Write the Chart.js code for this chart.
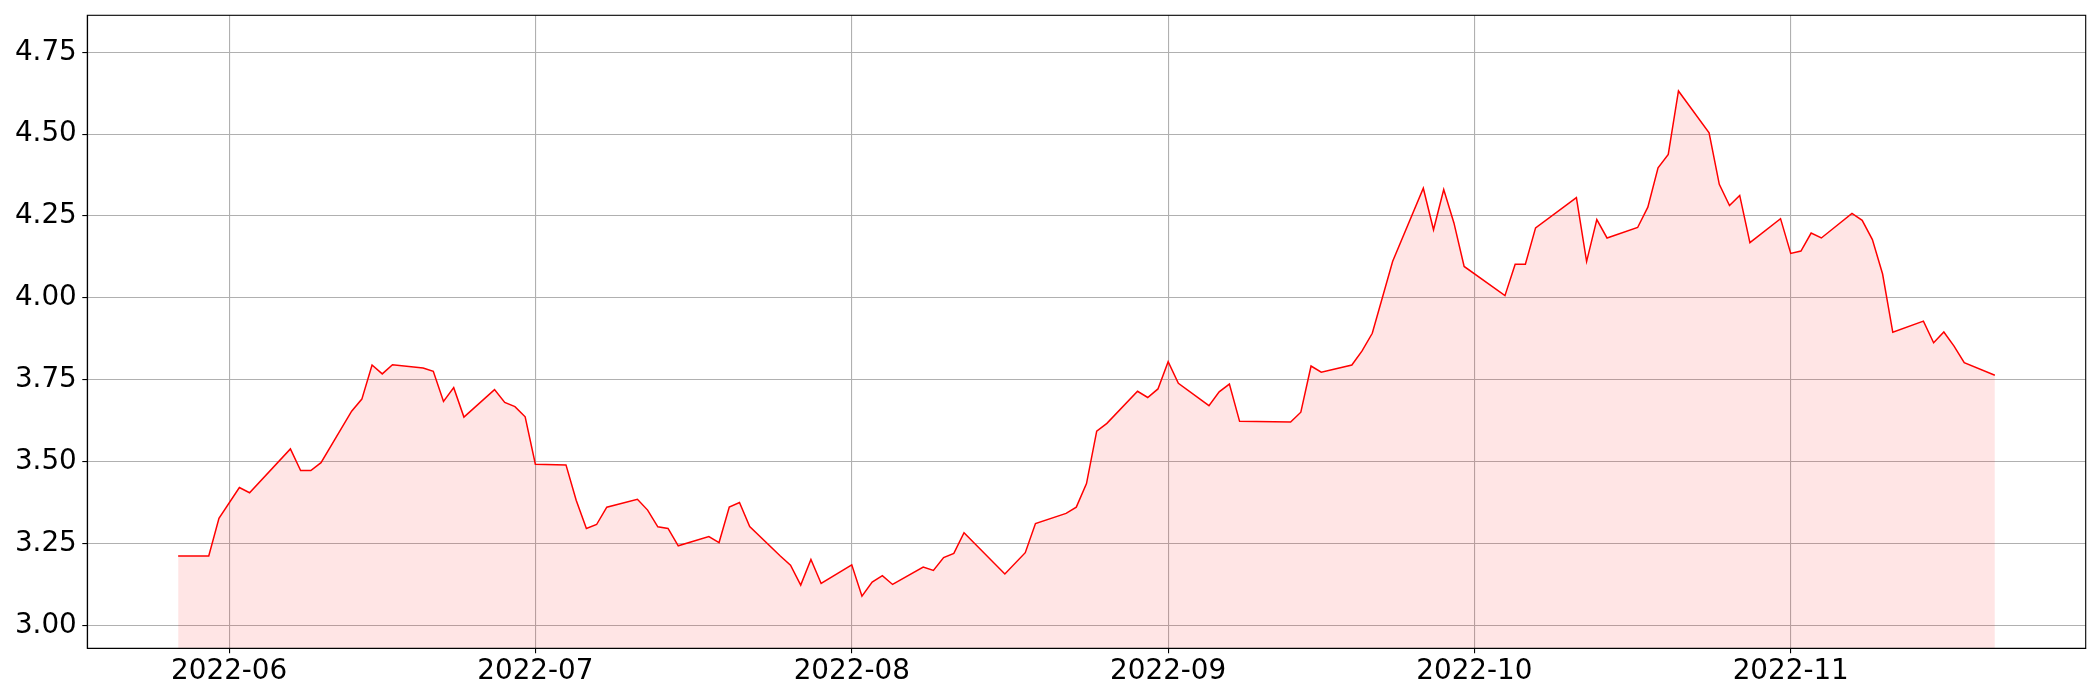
<!DOCTYPE html>
<html>
<head>
<meta charset="utf-8">
<script src="https://cdn.jsdelivr.net/npm/chart.js@4/dist/chart.umd.min.js"></script>
<style>
  html, body { margin: 0; padding: 0; background: #fff; }
  #chart { display: block; }
</style>
</head>
<body>
<canvas id="chart" width="2100" height="700"></canvas>
<script>
// dates of each observation
const dates = [
    '2022-05-27', '2022-05-30', '2022-05-31', '2022-06-02', '2022-06-03', '2022-06-07', '2022-06-08', '2022-06-09', '2022-06-10',
    '2022-06-13', '2022-06-14', '2022-06-15', '2022-06-16', '2022-06-17', '2022-06-20', '2022-06-21', '2022-06-22', '2022-06-23',
    '2022-06-24', '2022-06-27', '2022-06-28', '2022-06-29', '2022-06-30', '2022-07-01', '2022-07-04', '2022-07-05', '2022-07-06',
    '2022-07-07', '2022-07-08', '2022-07-11', '2022-07-12', '2022-07-13', '2022-07-14', '2022-07-15', '2022-07-18', '2022-07-19',
    '2022-07-20', '2022-07-21', '2022-07-22', '2022-07-25', '2022-07-26', '2022-07-27', '2022-07-28', '2022-07-29', '2022-08-01',
    '2022-08-02', '2022-08-03', '2022-08-04', '2022-08-05', '2022-08-08', '2022-08-09', '2022-08-10', '2022-08-11', '2022-08-12',
    '2022-08-16', '2022-08-18', '2022-08-19', '2022-08-22', '2022-08-23', '2022-08-24', '2022-08-25', '2022-08-26', '2022-08-29',
    '2022-08-30', '2022-08-31', '2022-09-01', '2022-09-02', '2022-09-05', '2022-09-06', '2022-09-07', '2022-09-08', '2022-09-13',
    '2022-09-14', '2022-09-15', '2022-09-16', '2022-09-19', '2022-09-20', '2022-09-21', '2022-09-23', '2022-09-26', '2022-09-27',
    '2022-09-28', '2022-09-29', '2022-09-30', '2022-10-04', '2022-10-05', '2022-10-06', '2022-10-07', '2022-10-11', '2022-10-12',
    '2022-10-13', '2022-10-14', '2022-10-17', '2022-10-18', '2022-10-19', '2022-10-20', '2022-10-21', '2022-10-24', '2022-10-25',
    '2022-10-26', '2022-10-27', '2022-10-28', '2022-10-31', '2022-11-01', '2022-11-02', '2022-11-03', '2022-11-04', '2022-11-07',
    '2022-11-08', '2022-11-09', '2022-11-10', '2022-11-11', '2022-11-14', '2022-11-15', '2022-11-16', '2022-11-17', '2022-11-18',
    '2022-11-21'
];

// value on each date
const values = [
    3.212, 3.212, 3.327, 3.421, 3.405, 3.539, 3.473, 3.473, 3.497,
    3.654, 3.691, 3.795, 3.768, 3.796, 3.786, 3.776, 3.684, 3.726,
    3.636, 3.720, 3.681, 3.668, 3.637, 3.492, 3.490, 3.382, 3.296,
    3.308, 3.361, 3.385, 3.352, 3.301, 3.296, 3.243, 3.271, 3.253,
    3.361, 3.375, 3.302, 3.212, 3.184, 3.123, 3.201, 3.128, 3.185,
    3.089, 3.132, 3.152, 3.125, 3.178, 3.168, 3.207, 3.220, 3.283,
    3.157, 3.222, 3.311, 3.342, 3.361, 3.433, 3.593, 3.617, 3.715,
    3.696, 3.722, 3.805, 3.739, 3.671, 3.713, 3.737, 3.623, 3.621,
    3.651, 3.792, 3.773, 3.795, 3.838, 3.892, 4.112, 4.335, 4.208,
    4.331, 4.229, 4.096, 4.007, 4.103, 4.103, 4.214, 4.306, 4.111,
    4.239, 4.183, 4.215, 4.277, 4.397, 4.438, 4.632, 4.504, 4.347,
    4.282, 4.313, 4.169, 4.242, 4.136, 4.143, 4.198, 4.183, 4.258,
    4.237, 4.178, 4.073, 3.895, 3.929, 3.863, 3.896, 3.853, 3.802,
    3.764
];

// axis ticks
const xTickDates = ['2022-06-01', '2022-07-01', '2022-08-01', '2022-09-01', '2022-10-01', '2022-11-01'];
const xTickLabels = ['2022-06', '2022-07', '2022-08', '2022-09', '2022-10', '2022-11'];
const yTicks = [3.00, 3.25, 3.50, 3.75, 4.00, 4.25, 4.50, 4.75];

const DAY = 86400000;
const toDay = s => new Date(s).getTime() / DAY;

const points = dates.map((d, i) => ({ x: toDay(d), y: values[i] }));
const first = points[0].x;
const last = points[points.length - 1].x;
const margin = (last - first) * 0.05;

// frame around the plot like matplotlib's spines
const frame = {
    id: 'frame',
    afterDraw(chart) {
        const a = chart.chartArea;
        const c = chart.ctx;
        c.save();
        c.strokeStyle = '#000';
        c.lineWidth = 1.1;
        c.strokeRect(a.left, a.top, a.right - a.left, a.bottom - a.top);
        c.restore();
    }
};

const font = { family: 'DejaVu Sans', size: 27.8 };

new Chart(document.getElementById('chart').getContext('2d'), {
    type: 'line',
    data: {
        datasets: [{
            data: points,
            borderColor: '#ff0000',
            borderWidth: 1.5,
            backgroundColor: 'rgba(255, 0, 0, 0.1)',
            fill: 'start',
            pointRadius: 0,
            tension: 0
        }]
    },
    options: {
        responsive: false,
        animation: false,
        layout: { padding: { top: 15.3, right: 14.3, left: 0, bottom: 0 } },
        plugins: { legend: { display: false }, tooltip: { enabled: false } },
        scales: {
            x: {
                type: 'linear',
                min: first - margin,
                max: last + margin,
                afterBuildTicks: scale => {
                    scale.ticks = xTickDates.map(d => ({ value: toDay(d) }));
                },
                afterFit: scale => {
                    scale.height = 51.7;
                    scale.paddingLeft = 0;
                    scale.paddingRight = 0;
                },
                ticks: {
                    color: '#000',
                    font: font,
                    padding: 2,
                    maxRotation: 0,
                    autoSkip: false,
                    callback: (v, i) => xTickLabels[i]
                },
                grid: { color: '#b0b0b0', lineWidth: 1.1, tickColor: '#000', tickLength: 5 },
                border: { color: '#000', width: 1.1 }
            },
            y: {
                min: 2.930,
                max: 4.863,
                afterBuildTicks: scale => {
                    scale.ticks = yTicks.map(v => ({ value: v }));
                },
                afterFit: scale => {
                    scale.width = 87.3;
                    scale.paddingTop = 0;
                    scale.paddingBottom = 0;
                },
                ticks: {
                    color: '#000',
                    font: font,
                    padding: 5.5,
                    autoSkip: false,
                    callback: v => v.toFixed(2)
                },
                grid: { color: '#b0b0b0', lineWidth: 1.1, tickColor: '#000', tickLength: 5 },
                border: { color: '#000', width: 1.1 }
            }
        }
    },
    plugins: [frame]
});
</script>
</body>
</html>
